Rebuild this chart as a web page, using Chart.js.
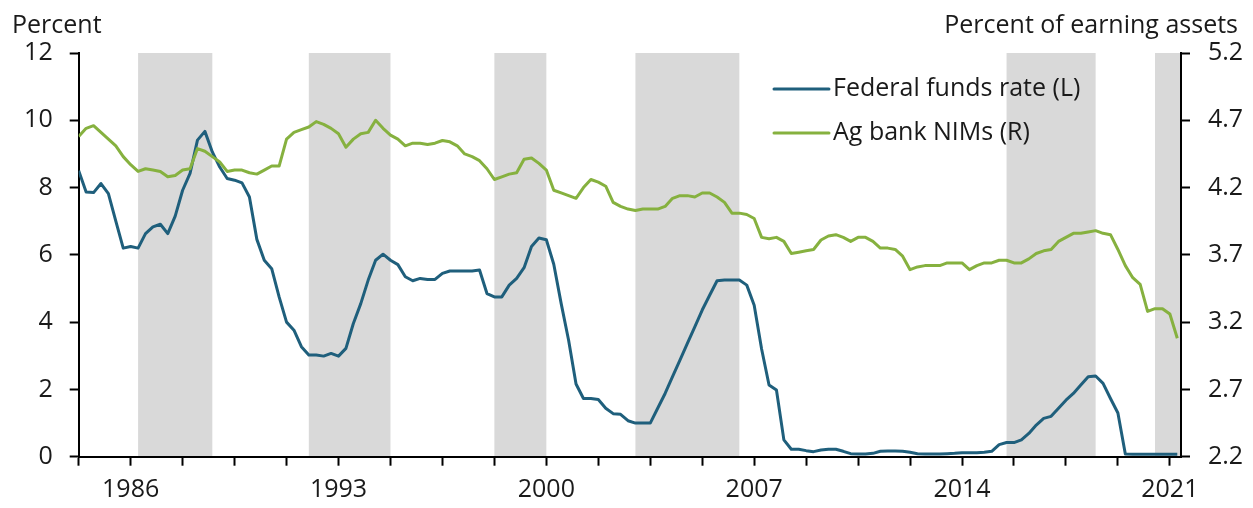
<!DOCTYPE html>
<html>
<head>
<meta charset="utf-8">
<script src="https://cdn.jsdelivr.net/npm/chart.js@4/dist/chart.umd.min.js"></script>
<style>
  html, body { margin: 0; padding: 0; background: #ffffff; }
  #wrap { width: 1253px; height: 508px; position: relative; }
</style>
</head>
<body>
<div id="wrap"><canvas id="c" width="1253" height="508"></canvas></div>
<script>
// ---------------- DATA ----------------
const startYear = 1985; // first quarter: 1985 Q1
const seriesNames = ['Federal funds rate (L)', 'Ag bank NIMs (R)'];

// Federal funds rate, percent (left axis), quarterly
const fedFunds = [
  8.50, 7.87, 7.85, 8.12, 7.82, 7.00, 6.20, 6.25, 6.20, 6.63,
  6.83, 6.91, 6.63, 7.15, 7.92, 8.42, 9.41, 9.67, 9.06, 8.61,
  8.27, 8.22, 8.14, 7.72, 6.46, 5.84, 5.59, 4.75, 4.00, 3.76,
  3.27, 3.02, 3.02, 2.99, 3.07, 2.99, 3.22, 3.96, 4.55, 5.25,
  5.84, 6.02, 5.84, 5.71, 5.35, 5.23, 5.30, 5.27, 5.27, 5.45,
  5.52, 5.52, 5.52, 5.52, 5.55, 4.85, 4.75, 4.75, 5.10, 5.30,
  5.62, 6.25, 6.50, 6.45, 5.72, 4.55, 3.46, 2.16, 1.73, 1.73,
  1.70, 1.44, 1.28, 1.26, 1.07, 1.00, 1.00, 1.00, 1.44, 1.88,
  2.38, 2.87, 3.37, 3.86, 4.36, 4.80, 5.23, 5.25, 5.25, 5.25,
  5.10, 4.50, 3.20, 2.13, 1.98, 0.50, 0.22, 0.22, 0.18, 0.15,
  0.20, 0.22, 0.22, 0.16, 0.09, 0.08, 0.08, 0.10, 0.16, 0.17,
  0.17, 0.16, 0.13, 0.09, 0.08, 0.08, 0.08, 0.09, 0.10, 0.12,
  0.12, 0.12, 0.13, 0.16, 0.36, 0.42, 0.42, 0.50, 0.69, 0.94,
  1.14, 1.20, 1.44, 1.68, 1.88, 2.13, 2.38, 2.40, 2.18, 1.73,
  1.30, 0.08, 0.07, 0.07, 0.07, 0.07, 0.07, 0.07, 0.07
];

// Ag bank net interest margins, percent of earning assets (right axis), quarterly
const agNIM = [
  4.58, 4.64, 4.66, 4.61, 4.56, 4.51, 4.43, 4.37, 4.32, 4.34,
  4.33, 4.32, 4.28, 4.29, 4.33, 4.34, 4.49, 4.47, 4.43, 4.39,
  4.32, 4.33, 4.33, 4.31, 4.30, 4.33, 4.36, 4.36, 4.56, 4.61,
  4.63, 4.65, 4.69, 4.67, 4.64, 4.60, 4.50, 4.56, 4.60, 4.61,
  4.70, 4.64, 4.59, 4.56, 4.51, 4.53, 4.53, 4.52, 4.53, 4.55,
  4.54, 4.51, 4.45, 4.43, 4.40, 4.34, 4.26, 4.28, 4.30, 4.31,
  4.41, 4.42, 4.38, 4.33, 4.18, 4.16, 4.14, 4.12, 4.20, 4.26,
  4.24, 4.21, 4.09, 4.06, 4.04, 4.03, 4.04, 4.04, 4.04, 4.06,
  4.12, 4.14, 4.14, 4.13, 4.16, 4.16, 4.13, 4.09, 4.01, 4.01,
  4.00, 3.97, 3.83, 3.82, 3.83, 3.80, 3.71, 3.72, 3.73, 3.74,
  3.81, 3.84, 3.85, 3.83, 3.80, 3.83, 3.83, 3.80, 3.75, 3.75,
  3.74, 3.69, 3.59, 3.61, 3.62, 3.62, 3.62, 3.64, 3.64, 3.64,
  3.59, 3.62, 3.64, 3.64, 3.66, 3.66, 3.64, 3.64, 3.67, 3.71,
  3.73, 3.74, 3.80, 3.83, 3.86, 3.86, 3.87, 3.88, 3.86, 3.85,
  3.74, 3.62, 3.53, 3.48, 3.28, 3.30, 3.30, 3.26, 3.08
];

// Quarter categories: "1985 Q1" ...
const quarters = fedFunds.map((_, i) => (startYear + Math.floor(i / 4)) + ' Q' + (i % 4 + 1));

// Year labels shown on the x axis (placed at the Q4 of each year)
const yearLabels = ['1986', '1993', '2000', '2007', '2014', '2021'];

// Shaded periods (first and last quarter; null end = through end of chart)
const shadedPeriods = [
  ['1987 Q1', '1989 Q3'],
  ['1992 Q4', '1995 Q3'],
  ['1999 Q1', '2000 Q4'],
  ['2003 Q4', '2007 Q2'],
  ['2016 Q2', '2019 Q2'],
  ['2021 Q2', null]
];

const leftTicks = [0, 2, 4, 6, 8, 10, 12];
const rightTicks = [2.2, 2.7, 3.2, 3.7, 4.2, 4.7, 5.2];

// ---------------- STYLE ----------------
const FONT = '"Open Sans", Lato, "Noto Sans", sans-serif';
const FS = 25;
const BLUE = '#1f5f7c';
const GREEN = '#86b13f';
const BAND = '#d9d9d9';

const shadePlugin = {
  id: 'shade',
  beforeDraw(chart) {
    const { ctx, chartArea: a, scales: { x } } = chart;
    ctx.save();
    ctx.fillStyle = BAND;
    shadedPeriods.forEach(([s, e]) => {
      const x0 = x.getPixelForValue(quarters.indexOf(s));
      const x1 = e === null ? a.right : x.getPixelForValue(quarters.indexOf(e));
      ctx.fillRect(x0, a.top, x1 - x0, a.bottom - a.top);
    });
    ctx.restore();
  }
};

const textPlugin = {
  id: 'texts',
  afterDraw(chart) {
    const { ctx } = chart;
    ctx.save();
    ctx.fillStyle = '#1a1a1a';
    ctx.font = FS + 'px ' + FONT;
    ctx.textBaseline = 'alphabetic';
    ctx.textAlign = 'left';
    ctx.fillText('Percent', 12, 33);
    ctx.textAlign = 'right';
    ctx.fillText('Percent of earning assets', 1238, 33);
    // legend
    const items = [[seriesNames[0], BLUE, 89], [seriesNames[1], GREEN, 133]];
    items.forEach(([label, col, y]) => {
      ctx.strokeStyle = col;
      ctx.lineWidth = 3;
      ctx.lineCap = 'round';
      ctx.beginPath();
      ctx.moveTo(774, y);
      ctx.lineTo(829, y);
      ctx.stroke();
      ctx.textAlign = 'left';
      ctx.textBaseline = 'middle';
      ctx.fillText(label, 833, y);
    });
    ctx.restore();
  }
};

const tickFont = { family: FONT, size: FS };

new Chart(document.getElementById('c'), {
  type: 'line',
  data: {
    datasets: [
      {
        label: seriesNames[0],
        data: fedFunds.map((v, i) => ({ x: i, y: v })),
        borderColor: BLUE,
        borderWidth: 3,
        pointRadius: 0,
        tension: 0,
        borderJoinStyle: 'round',
        yAxisID: 'yL',
        order: 1
      },
      {
        label: seriesNames[1],
        data: agNIM.map((v, i) => ({ x: i, y: v })),
        borderColor: GREEN,
        borderWidth: 3,
        pointRadius: 0,
        tension: 0,
        borderJoinStyle: 'round',
        yAxisID: 'yR',
        order: 0
      }
    ]
  },
  options: {
    responsive: false,
    animation: false,
    events: [],
    layout: { padding: { top: 53, left: 0, right: 0, bottom: 0 } },
    plugins: { legend: { display: false }, tooltip: { enabled: false } },
    scales: {
      x: {
        type: 'linear',
        min: 0,
        max: quarters.length - 0.5,
        afterBuildTicks(scale) {
          const t = [];
          for (let i = 0; i < quarters.length; i += 7) t.push({ value: i });
          scale.ticks = t;
        },
        afterFit(scale) { scale.height = 51.3; },
        ticks: {
          autoSkip: false,
          maxRotation: 0,
          padding: 9,
          color: '#1a1a1a',
          font: tickFont,
          callback(v) {
            const q = quarters[v];
            if (!q || !q.endsWith('Q4')) return '';
            const yr = q.slice(0, 4);
            return yearLabels.includes(yr) ? yr : '';
          }
        },
        grid: { drawOnChartArea: false, drawTicks: true, tickLength: 9, tickColor: '#000', tickWidth: 2 },
        border: { display: true, color: '#000', width: 2 }
      },
      yL: {
        position: 'left',
        min: 0,
        max: 12,
        afterBuildTicks(scale) { scale.ticks = leftTicks.map(v => ({ value: v })); },
        afterFit(scale) { scale.width = 78.7; },
        ticks: { padding: 17, color: '#1a1a1a', font: tickFont, callback: v => String(v) },
        grid: { drawOnChartArea: false, drawTicks: true, tickLength: 9, tickColor: '#000', tickWidth: 2 },
        border: { display: true, color: '#000', width: 2 }
      },
      yR: {
        position: 'right',
        min: 2.2,
        max: 5.2,
        afterBuildTicks(scale) { scale.ticks = rightTicks.map(v => ({ value: v })); },
        afterFit(scale) { scale.width = 72; },
        ticks: { padding: 18, color: '#1a1a1a', font: tickFont, callback: v => Number(v).toFixed(1) },
        grid: { drawOnChartArea: false, drawTicks: true, tickLength: 9, tickColor: '#000', tickWidth: 2 },
        border: { display: true, color: '#000', width: 2 }
      }
    }
  },
  plugins: [shadePlugin, textPlugin]
});
</script>
</body>
</html>
